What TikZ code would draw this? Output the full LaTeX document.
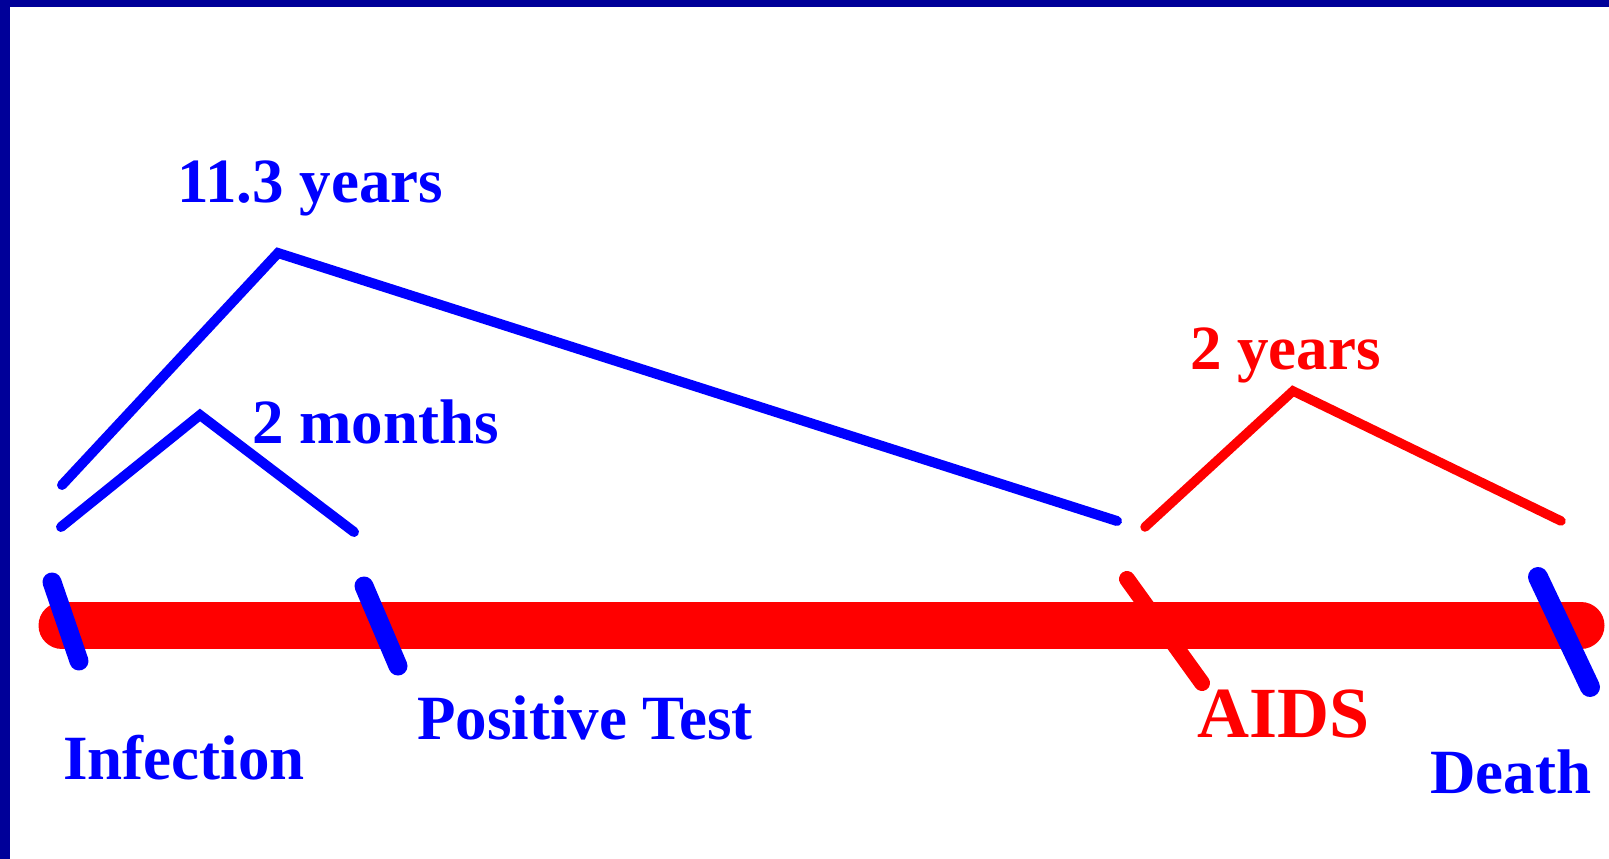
\documentclass[tikz,border=0pt]{standalone}
\usepackage{fontspec}
\setmainfont{Liberation Serif}
\usepackage{xcolor}
\usepackage{tikz}

\definecolor{frameblue}{RGB}{0,0,153}
\definecolor{lineblue}{RGB}{0,0,255}
\definecolor{linered}{RGB}{255,0,0}

\begin{document}
\begin{tikzpicture}[x=1pt,y=-1pt,
        lbl/.style={inner sep=0pt,anchor=base west,font=\bfseries\fontsize{63}{70}\selectfont},
        tick/.style={line width=19pt,line cap=round},
        brace/.style={line width=10pt,line cap=round,line join=miter}]
        \useasboundingbox (0,0) rectangle (1609,859);
        \fill[white] (0,0) rectangle (1609,859);
        \fill[frameblue] (0,0) rectangle (1609,7);
        \fill[frameblue] (0,0) rectangle (10,859);
        % time line
        \coordinate (start) at (62,625.5);
        \coordinate (stop) at (1581,625.5);
        \draw[linered,line width=47pt,line cap=round] (start) -- (stop);
        % event marks
        \coordinate (inf1) at (52,582);    \coordinate (inf2) at (79,661);
        \coordinate (pos1) at (364,586);   \coordinate (pos2) at (398,666);
        \coordinate (aids1) at (1127,579); \coordinate (aids2) at (1202,683);
        \coordinate (dth1) at (1538,577);  \coordinate (dth2) at (1590,687);
        \draw[tick,lineblue] (inf1) -- (inf2);
        \draw[tick,lineblue] (pos1) -- (pos2);
        \draw[tick,linered,line width=16pt] (aids1) -- (aids2);
        \draw[tick,lineblue,line width=20pt] (dth1) -- (dth2);
        % intervals
        \coordinate (a1) at (62,485);   \coordinate (a2) at (278,253);  \coordinate (a3) at (1117,521);
        \coordinate (b1) at (61,527);   \coordinate (b2) at (200,415);  \coordinate (b3) at (354,532);
        \coordinate (c1) at (1145,527); \coordinate (c2) at (1293,391); \coordinate (c3) at (1561,521);
        \draw[brace,lineblue] (a1) -- (a2) -- (a3);
        \draw[brace,lineblue] (b1) -- (b2) -- (b3);
        \draw[brace,linered,line width=9.5pt] (c1) -- (c2) -- (c3);
        % labels
        \node[lbl,lineblue] (t113) at (177,202) {11.3 years};
        \node[lbl,lineblue] (tmon) at (252,443) {2 months};
        \node[lbl,linered] (tyr) at (1190,369) {2 years};
        \node[lbl,lineblue] (inf) at (63,779) {Infection};
        \node[lbl,lineblue] (pos) at (417,739) {Positive Test};
        \node[lbl,linered,font=\bfseries\fontsize{72}{80}\selectfont] (aids) at (1197,737) {AIDS};
        \node[lbl,lineblue] (death) at (1430,793) {Death};
    \end{tikzpicture}
\end{document}
